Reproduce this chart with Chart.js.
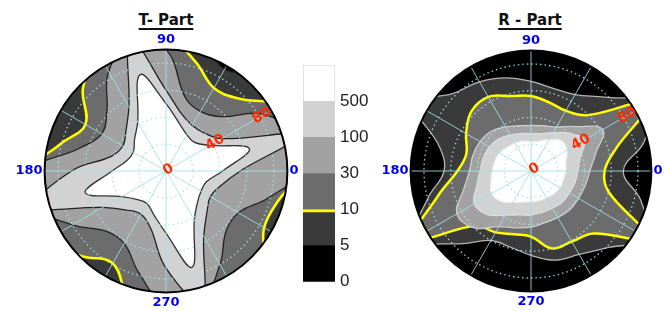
<!DOCTYPE html>
<html>
<head>
<meta charset="utf-8">
<script src="https://cdn.jsdelivr.net/npm/chart.js@4/dist/chart.umd.min.js"></script>
<style>
  html, body { margin: 0; padding: 0; background: #fff; overflow: hidden; }
  body { width: 664px; height: 311px; position: relative; }
  canvas, .title { position: absolute; }
  #tPolar { left: -10px; top: 33px; }
  #rPolar { left: 361px; top: 34px; }
  #scaleBar { left: 303px; top: 50px; }
  .title {
    top: 11px; width: 200px; line-height: 18px;
    font: bold 15px "DejaVu Sans", sans-serif; color: #111; text-align: center;
    text-decoration: underline; text-decoration-thickness: 1.5px; text-underline-offset: 3px;
  }
  #tTitle { left: 66px; }
  #rTitle { left: 430px; }
</style>
</head>
<body>
<div class="title" id="tTitle">T- Part</div>
<div class="title" id="rTitle">R - Part</div>
<canvas id="tPolar" width="352" height="278"></canvas>
<canvas id="rPolar" width="340" height="276"></canvas>
<canvas id="scaleBar" width="72" height="247"></canvas>
<script>
// polar angle of every sample (degrees, counter-clockwise from 0 = right)
const angleDeg = [0, 15, 30, 45, 60, 75, 90, 105, 120, 135, 150, 165,
                  180, 195, 210, 225, 240, 255, 270, 285, 300, 315, 330, 345];
const angleTicks = [0, 90, 180, 270];
const radialTicks = [0, 40, 80];
const levelLabels = ['0', '5', '10', '30', '100', '500'];

// radius where each contour level is crossed (rim = 90, 100 = contour lies outside the disc)
// T - Part
const tLevel500 = [42, 64, 38, 30, 31, 37, 50, 74, 42, 33, 28, 30, 40, 62, 38, 30, 28, 34, 46, 74, 42, 33, 30, 31];
const tLevel100 = [55, 100, 48, 40, 39, 44, 60, 100, 55, 42, 37, 42, 70, 100, 54, 41, 37, 44, 72, 100, 56, 43, 38, 42];
const tLevel30  = [100, 100, 84, 57, 51, 56, 90, 100, 85, 62, 55, 66, 100, 100, 80, 63, 62, 78, 100, 100, 80, 63, 62, 78];
const tLevel10  = [100, 100, 96, 76, 71, 84, 100, 100, 100, 87, 69, 80, 100, 100, 100, 89, 79, 100, 100, 100, 100, 100, 84, 86];
const tLevel5   = [100, 100, 100, 100, 87, 100, 100, 100, 100, 100, 100, 100, 100, 100, 100, 100, 100, 100, 100, 100, 100, 100, 100, 100];
// R - Part
const rLevel500 = [26, 27, 31, 32, 27, 23, 22, 23, 24, 25, 27, 28, 29, 31, 34, 32, 27, 24, 23, 23, 23, 24, 25, 25];
const rLevel100 = [35, 38, 46, 40, 33, 29, 28, 29, 31, 34, 36, 37, 38, 42, 49, 46, 38, 34, 33, 32, 32, 33, 33, 34];
const rLevel30  = [44, 50, 62, 47, 38, 35, 34, 35, 38, 42, 44, 45, 46, 52, 64, 60, 48, 44, 42, 40, 40, 41, 41, 42];
const rLevel10  = [55, 66, 100, 59, 52, 53, 56, 58, 64, 63, 56, 50, 55, 72, 100, 58, 53, 49, 49, 60, 61, 66, 100, 60];
const rLevel5   = [69, 88, 100, 78, 66, 64, 67, 72, 77, 82, 100, 71, 65, 80, 100, 77, 60, 59, 63, 69, 72, 81, 100, 85];

// band colours, lowest band first
const bandColors = ['#000000', '#3a3a3a', '#6c6c6c', '#a2a2a2', '#d2d2d2', '#ffffff'];
const yellow = '#ffff00';

Chart.defaults.font.family = '"DejaVu Sans", sans-serif';

const step = 360 / angleDeg.length;
// radar runs clockwise from the top, so 90 comes first
const radarAngles = angleDeg.map((_, i) => (90 - step * i + 360) % 360);
const radarOrder = arr => radarAngles.map(a => arr[angleDeg.indexOf(a)]);

// clip the bands to the disc, paint the lowest band underneath, then rim + red radius labels
const discPlugin = {
  id: 'disc',
  beforeDatasetsDraw(chart) {
    const s = chart.scales.r, ctx = chart.ctx;
    ctx.save();
    ctx.beginPath();
    ctx.arc(s.xCenter, s.yCenter, s.drawingArea, 0, Math.PI * 2);
    ctx.clip();
    ctx.fillStyle = bandColors[0];
    ctx.fillRect(0, 0, chart.width, chart.height);
  },
  afterDatasetsDraw(chart) {
    chart.ctx.restore();
  },
  afterDraw(chart, args, opts) {
    const s = chart.scales.r, ctx = chart.ctx;
    ctx.save();
    ctx.beginPath();
    ctx.arc(s.xCenter, s.yCenter, s.drawingArea, 0, Math.PI * 2);
    ctx.lineWidth = 2;
    ctx.strokeStyle = '#000';
    ctx.stroke();

    const idx = radarAngles.indexOf(30);
    ctx.font = 'bold 14px "DejaVu Sans", sans-serif';
    ctx.fillStyle = '#ff2a00';
    ctx.textAlign = 'center';
    ctx.textBaseline = 'middle';
    radialTicks.forEach(v => {
      const p = s.getPointPositionForValue(idx, v + opts.shift);
      ctx.save();
      ctx.translate(p.x, p.y);
      ctx.rotate(-Math.PI / 6);
      ctx.fillText(String(v), 0, 0);
      ctx.restore();
    });
    ctx.restore();
  }
};

function buildPolar(id, levels, lineColors, tension, shift) {
  const datasets = levels.map((arr, k) => ({
    data: radarOrder(arr),
    fill: 'origin',
    backgroundColor: bandColors[5 - k],
    borderColor: lineColors[k],
    borderWidth: lineColors[k] === yellow ? 2.5 : 1.3,
    pointRadius: 0,
    tension: tension
  }));

  return new Chart(document.getElementById(id), {
    type: 'radar',
    data: { labels: radarAngles.map(String), datasets },
    options: {
      responsive: false,
      animation: false,
      plugins: {
        legend: { display: false },
        tooltip: { enabled: false },
        disc: { shift }
      },
      scales: {
        r: {
          min: 0,
          max: 90,
          z: 1,
          ticks: { display: false, stepSize: 20, z: 1 },
          grid: {
            circular: true,
            z: 1,
            color: 'rgba(165,225,235,0.9)',
            lineWidth: c => (c.tick && c.tick.value >= 90) ? 0 : 1.3,
            borderDash: [1.5, 3]
          },
          border: { dash: [1.5, 3] },
          angleLines: {
            color: 'rgba(160,225,228,0.85)',
            lineWidth: c => (c.index % 2 === 0 ? 1 : 0)
          },
          pointLabels: {
            padding: 2,
            color: '#0000ee',
            font: { size: 13, weight: 'bold' },
            callback: lbl => angleTicks.includes(Number(lbl)) ? lbl : ''
          }
        }
      }
    },
    plugins: [discPlugin]
  });
}

buildPolar('tPolar',
  [tLevel500, tLevel100, tLevel30, tLevel10, tLevel5],
  ['#333333', '#222222', '#222222', yellow, '#222222'],
  0.4, 2);

buildPolar('rPolar',
  [rLevel500, rLevel100, rLevel30, rLevel10, rLevel5],
  ['#eeeeee', '#dddddd', '#cccccc', yellow, '#b4b4b4'],
  0.4, 3);

// colour scale
new Chart(document.getElementById('scaleBar'), {
  type: 'bar',
  data: {
    labels: [''],
    datasets: bandColors.map((c, i) => ({
      data: [1],
      backgroundColor: c,
      borderColor: i === 1 ? yellow : '#d6d6d6',
      borderWidth: i === 1 ? { top: 3, right: 0, bottom: 0, left: 0 }
                 : (i === 5 ? { top: 1, right: 1, bottom: 0, left: 1 } : 0),
      borderSkipped: false,
      barPercentage: 1,
      categoryPercentage: 1
    }))
  },
  options: {
    responsive: false,
    animation: false,
    layout: { padding: { top: 7, bottom: 10, left: 0, right: 0 } },
    plugins: { legend: { display: false }, tooltip: { enabled: false } },
    scales: {
      x: { stacked: true, display: false },
      y: {
        stacked: true,
        min: 0,
        max: 6,
        position: 'right',
        grid: { display: false, drawTicks: false },
        border: { display: false },
        ticks: {
          stepSize: 1,
          padding: 5,
          color: '#222',
          font: { family: '"Liberation Sans", sans-serif', size: 17 },
          callback: v => levelLabels[v] ?? ''
        },
        afterFit(scale) { scale.width = 40; }
      }
    }
  }
});
</script>
</body>
</html>
